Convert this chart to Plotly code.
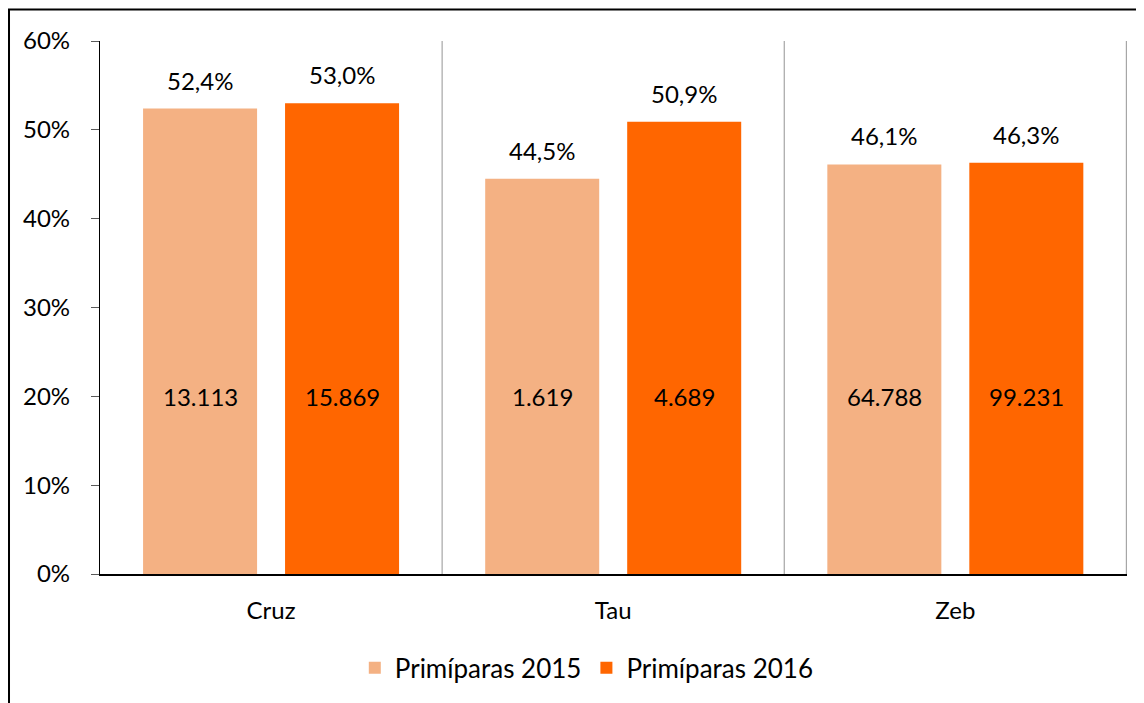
import plotly.graph_objects as go

categorias = ["Cruz", "Tau", "Zeb"]
series = ["Primíparas 2015", "Primíparas 2016"]
pct_2015 = [0.524, 0.445, 0.461]
pct_2016 = [0.530, 0.509, 0.463]
n_2015 = [13113, 1619, 64788]
n_2016 = [15869, 4689, 99231]
cores = ["#F4B183", "#FF6600"]

FONTE = "Lato, Calibri, sans-serif"
TAM = 24


def fmt_pct(v):
    return f"{v * 100:.1f}%".replace(".", ",")


def fmt_n(v):
    return f"{v:,}".replace(",", ".")


fig = go.Figure()
for nome, valores, cor in zip(series, [pct_2015, pct_2016], cores):
    fig.add_trace(go.Bar(
        x=categorias,
        y=valores,
        name=nome,
        marker=dict(color=cor, line=dict(width=0)),
    ))

# rótulos: percentual acima, contagem dentro da barra
for valores, contagens, desloc in [(pct_2015, n_2015, -71), (pct_2016, n_2016, 71)]:
    for cat, v, n in zip(categorias, valores, contagens):
        fig.add_annotation(x=cat, y=v, xshift=desloc, yshift=12, yanchor="bottom",
                           text=fmt_pct(v), showarrow=False,
                           font=dict(family=FONTE, size=TAM, color="black"))
        fig.add_annotation(x=cat, y=0.2, xshift=desloc, yanchor="middle",
                           text=fmt_n(n), showarrow=False,
                           font=dict(family=FONTE, size=TAM, color="black"))

# linhas separadoras entre categorias
for i in range(1, len(categorias) + 1):
    fig.add_shape(type="line", xref="x", yref="y", x0=i - 0.5, x1=i - 0.5,
                  y0=0, y1=0.6, line=dict(color="#A6A6A6", width=1.2))

# moldura externa
fig.add_shape(type="rect", xref="paper", yref="paper",
              x0=-0.0886, x1=1.05, y0=-0.3, y1=1.059,
              line=dict(color="black", width=2))

fig.update_layout(
    width=1136, height=695,
    margin=dict(l=92, r=17, t=33, b=129),
    paper_bgcolor="white", plot_bgcolor="white",
    font=dict(family=FONTE, size=TAM, color="black"),
    barmode="group", bargap=0.17, bargroupgap=0.197,
    separators=",.",
    showlegend=True,
    legend=dict(orientation="h", x=0.474, xanchor="center", y=-0.176, yanchor="middle",
                font=dict(size=26), itemwidth=30),
    xaxis=dict(showline=True, linecolor="black", linewidth=2, ticks="",
               showgrid=False, tickfont=dict(size=TAM), ticklabelstandoff=14),
    yaxis=dict(range=[0, 0.6], dtick=0.1, tickformat=".0%", showline=True,
               linecolor="black", linewidth=1.2, ticks="outside", ticklen=8,
               tickcolor="#595959", showgrid=False, zeroline=False,
               tickfont=dict(size=TAM), ticklabelstandoff=16),
)

fig.write_html("out.html")
